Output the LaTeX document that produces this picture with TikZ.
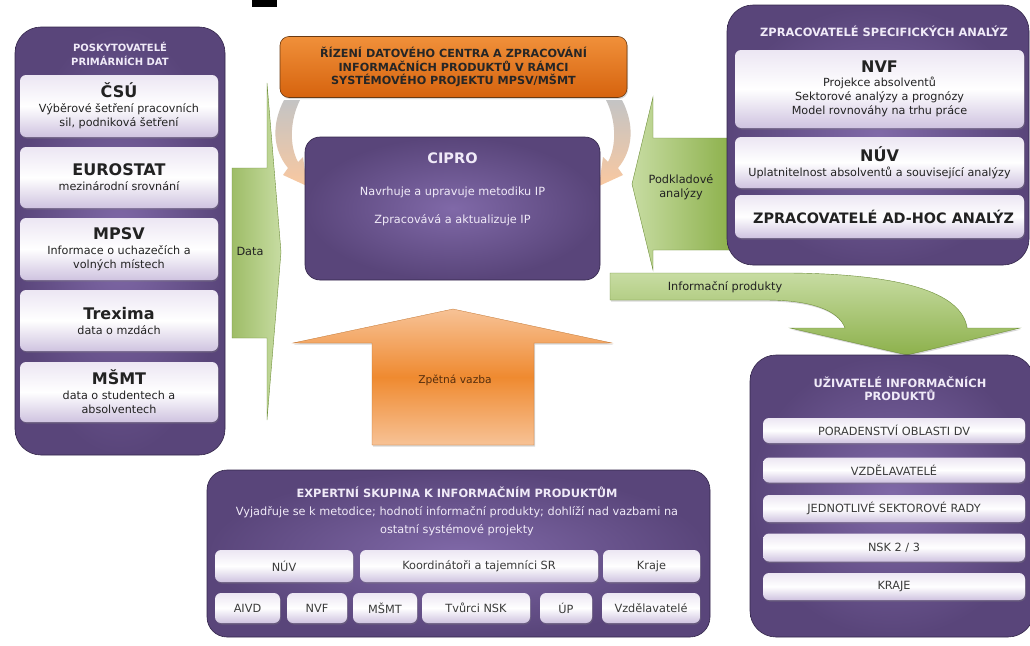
\documentclass[tikz,border=0pt]{standalone}
\usepackage{fontspec}
\setmainfont{DejaVu Sans}
\usetikzlibrary{shadows}
\definecolor{pdark}{HTML}{59457A}
\definecolor{plight}{HTML}{8069A8}
\definecolor{pedge}{HTML}{33264A}
\definecolor{ptxt}{HTML}{F0EAF8}
\definecolor{lavtop}{HTML}{ECE6F3}
\definecolor{lavbot}{HTML}{CFC3E0}
\definecolor{gtop}{HTML}{C7DCA2}
\definecolor{gbot}{HTML}{8DB14C}
\definecolor{gedge}{HTML}{6F8F3A}
\definecolor{otop}{HTML}{F0903A}
\definecolor{obot}{HTML}{D6630E}
\definecolor{oedge}{HTML}{6A3A12}
\definecolor{olight}{HTML}{F7C296}
\definecolor{omid}{HTML}{EF8A30}
\definecolor{peach}{HTML}{F9C8A0}
\definecolor{cgray}{HTML}{C4C4C4}
\definecolor{txtd}{HTML}{222222}
\definecolor{txtm}{HTML}{3A3A3A}
\newcommand\myhd{\bfseries\fontsize{16}{18}\selectfont}
\newcommand\mybd{\fontsize{11.2}{14}\selectfont}
\newcommand\myti{\bfseries\fontsize{11.4}{13}\selectfont}
\begin{document}
\begin{tikzpicture}[x=1pt,y=-1pt,
  panel/.style={draw=pedge, line width=0.6pt, rounded corners=26pt, inner color=plight, outer color=pdark, inner sep=0pt},
  ptitle/.style={text=ptxt, align=center, font=\myti, inner sep=0pt},
  ibox/.style={rounded corners=6pt, top color=lavtop, bottom color=lavbot, middle color=white, draw=none, inner sep=0pt, align=center, text=txtd, font=\mybd, drop shadow={opacity=0.35, shadow xshift=0.8pt, shadow yshift=-1.5pt}},
  ubox/.style={ibox, text=txtm, font=\fontsize{11.3}{13}\selectfont},
  gshade/.style={draw=gedge, line width=0.4pt},
  lbl/.style={inner sep=0pt, align=center, font=\fontsize{11.3}{13}\selectfont}
]
\clip (0,0) rectangle (1030,645);
\fill[white] (0,0) rectangle (1030,645);
\useasboundingbox (0,0) rectangle (1030,645);

% stray black mark at top
\fill[black] (252,0) rectangle (277,7);

% ---------- green arrows (behind panels) ----------
\path[gshade, left color=gbot!85!white, right color=gtop] (232,168) -- (267,168) -- (267,83) -- (281,252) -- (267,420) -- (267,338) -- (232,338) -- cycle;
\node[lbl, text=txtd] (data) at (250,251) {Data};

\path[gshade, left color=gtop, right color=gbot] (730,138) -- (653,138) -- (653,97) -- (632,184) -- (653,270) -- (653,250) -- (730,250) -- cycle;
\node[lbl, text=txtd, font=\fontsize{11.3}{13.5}\selectfont] (podk) at (681,187) {Podkladové\\analýzy};

\path[gshade, top color=gtop, bottom color=gbot, drop shadow={opacity=0.3, shadow xshift=1pt, shadow yshift=-1.5pt}] (610,273) -- (790,273) .. controls (900,274) and (962,292) .. (967,328) -- (1020,328) -- (907,355) -- (790,328) -- (845,328) .. controls (838,309) and (808,300) .. (765,300) -- (610,300) -- cycle;
\node[lbl, text=txtd] (infp) at (725,287) {Informační produkty};

% ---------- orange up arrow ----------
\path[top color=olight, bottom color=olight, middle color=omid, draw=otop!80!black, line width=0.3pt, drop shadow={opacity=0.3, shadow xshift=1pt, shadow yshift=-1.5pt}] (453,309) -- (612,343) -- (534,343) -- (534,445) -- (372,445) -- (372,343) -- (293,343) -- cycle;
\node[lbl, text=oedge!80!black, font=\fontsize{10.7}{13}\selectfont] (zv) at (455,380) {Zpětná vazba};

% ---------- curved arrows from orange box ----------
\path[top color=cgray, bottom color=peach] (284,100) .. controls (271,125) and (273,150) .. (288,168) -- (283,175) -- (307,186) -- (303,157) -- (298,162) .. controls (289,145) and (290,120) .. (300,100) -- cycle;
\path[top color=cgray, bottom color=peach] (622,100) .. controls (635,125) and (633,150) .. (618,168) -- (623,175) -- (599,186) -- (603,157) -- (608,162) .. controls (617,145) and (616,120) .. (606,100) -- cycle;

% ---------- orange box ----------
\node[draw=oedge, line width=0.6pt, rounded corners=9pt, top color=otop, bottom color=obot, minimum width=347pt, minimum height=61pt, inner sep=0pt, align=center, text=black!85, font=\bfseries\fontsize{11.2}{13.5}\selectfont, drop shadow={opacity=0.3, shadow xshift=1pt, shadow yshift=-1.5pt}] (rizeni) at (453.5,67) {ŘÍZENÍ DATOVÉHO CENTRA A ZPRACOVÁNÍ\\INFORMAČNÍCH PRODUKTŮ V RÁMCI\\SYSTÉMOVÉHO PROJEKTU MPSV/MŠMT};

% ---------- CIPRO ----------
\node[panel, rounded corners=15pt, minimum width=295pt, minimum height=143pt] (cipro) at (452.5,208.5) {};
\node[inner sep=0pt, text=ptxt, font=\bfseries\fontsize{14.5}{16}\selectfont] (ciprot) at (452.5,158) {CIPRO};
\node[lbl, text=ptxt] (cip1) at (452.5,192) {Navrhuje a upravuje metodiku IP};
\node[lbl, text=ptxt] (cip2) at (452.5,220) {Zpracovává a aktualizuje IP};

% ---------- left panel ----------
\node[panel, minimum width=210pt, minimum height=428pt] (pl) at (120,241) {};
\node[ptitle, font=\bfseries\fontsize{10}{13.5}\selectfont] (plt) at (120,54) {POSKYTOVATELÉ\\PRIMÁRNÍCH DAT};
\node[ibox, minimum width=198pt, minimum height=62pt] (csu) at (119,106) {\myhd ČSÚ\\[1pt]\mybd Výběrové šetření pracovních\\\mybd sil, podniková šetření};
\node[ibox, minimum width=198pt, minimum height=61pt] (euro) at (119,177.5) {\myhd EUROSTAT\\[1pt]\mybd mezinárodní srovnání};
\node[ibox, minimum width=198pt, minimum height=62pt] (mpsv) at (119,249) {\myhd MPSV\\[1pt]\mybd Informace o uchazečích a\\\mybd volných místech};
\node[ibox, minimum width=198pt, minimum height=61pt] (trex) at (119,320.5) {\myhd Trexima\\[1pt]\mybd data o mzdách};
\node[ibox, minimum width=198pt, minimum height=60pt] (msmt) at (119,392) {\myhd MŠMT\\[1pt]\mybd data o studentech a\\\mybd absolventech};

% ---------- right top panel ----------
\node[panel, minimum width=302pt, minimum height=260pt] (pr) at (878,135) {};
\node[ptitle] (prt) at (884,31) {ZPRACOVATELÉ SPECIFICKÝCH ANALÝZ};
\node[ibox, minimum width=289pt, minimum height=78pt] (nvf) at (879.5,89) {\myhd NVF\\[0pt]\mybd Projekce absolventů\\\mybd Sektorové analýzy a prognózy\\\mybd Model rovnováhy na trhu práce};
\node[ibox, minimum width=289pt, minimum height=51pt] (nuv) at (879.5,162.5) {\myhd NÚV\\[1pt]\mybd Uplatnitelnost absolventů a související analýzy};
\node[ibox, minimum width=289pt, minimum height=43pt, font=\bfseries\fontsize{14.4}{16}\selectfont] (adhoc) at (879.5,216.5) {\hspace*{8pt}ZPRACOVATELÉ AD-HOC ANALÝZ};

% ---------- right bottom panel ----------
\node[panel, minimum width=284pt, minimum height=282pt] (pu) at (892,496) {};
\node[ptitle] (put) at (900,389) {UŽIVATELÉ INFORMAČNÍCH\\PRODUKTŮ};
\node[ubox, minimum width=262pt, minimum height=25pt] (u1) at (894,430.5) {PORADENSTVÍ OBLASTI DV};
\node[ubox, minimum width=262pt, minimum height=25pt] (u2) at (894,470) {VZDĚLAVATELÉ};
\node[ubox, minimum width=262pt, minimum height=27pt] (u3) at (894,508.5) {JEDNOTLIVÉ SEKTOROVÉ RADY};
\node[ubox, minimum width=262pt, minimum height=28pt] (u4) at (894,547.5) {NSK 2 / 3};
\node[ubox, minimum width=262pt, minimum height=27pt] (u5) at (894,586.5) {KRAJE};

% ---------- bottom panel ----------
\node[panel, rounded corners=20pt, minimum width=503pt, minimum height=167pt] (pe) at (458.5,553.5) {};
\node[ptitle] (pet) at (457,492) {EXPERTNÍ SKUPINA K INFORMAČNÍM PRODUKTŮM};
\node[lbl, text=ptxt, font=\fontsize{11.3}{18}\selectfont] (ped) at (457,521) {Vyjadřuje se k metodice; hodnotí informační produkty; dohlíží nad vazbami na\\ostatní systémové projekty};
\node[ubox, minimum width=138pt, minimum height=32pt] (e1) at (284,566) {NÚV};
\node[ubox, minimum width=238pt, minimum height=32pt] (e2) at (479,566) {Koordinátoři a tajemníci SR};
\node[ubox, minimum width=97pt, minimum height=32pt] (e3) at (651.5,566) {Kraje};
\node[ubox, minimum width=65pt, minimum height=30pt] (e4) at (247.5,608) {AIVD};
\node[ubox, minimum width=60pt, minimum height=30pt] (e5) at (317,608) {NVF};
\node[ubox, minimum width=64pt, minimum height=30pt] (e6) at (385,608) {MŠMT};
\node[ubox, minimum width=108pt, minimum height=30pt] (e7) at (476,608) {Tvůrci NSK};
\node[ubox, minimum width=52pt, minimum height=30pt] (e8) at (566,608) {ÚP};
\node[ubox, minimum width=98pt, minimum height=30pt] (e9) at (651,608) {Vzdělavatelé};
\end{tikzpicture}
\end{document}
